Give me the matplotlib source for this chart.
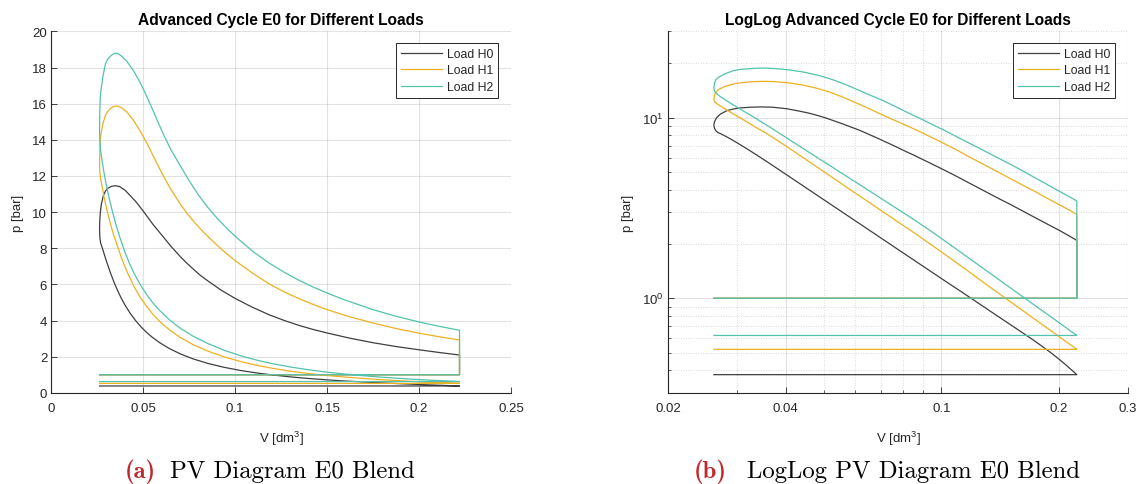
import matplotlib
matplotlib.use('Agg')
import matplotlib.pyplot as plt
from matplotlib.ticker import FixedLocator, FixedFormatter, NullFormatter, LogFormatterSciNotation

# ---------------- data ----------------
V_MIN = 0.0262          # dm^3
V_MAX = 0.2220          # dm^3
P_EXHAUST = 1.0         # bar
load_names = ['Load H0', 'Load H1', 'Load H2']
p_intake = [0.378, 0.522, 0.623]   # bar

# compression strokes (V decreasing)
V_comp_H0 = [0.2220, 0.2205, 0.2170, 0.2120, 0.2060, 0.2000, 0.1900, 0.1800, 0.1700, 0.1600,
             0.1500, 0.1400, 0.1300, 0.1200, 0.1125, 0.1040, 0.0940, 0.0850, 0.0770, 0.0700,
             0.0640, 0.0590, 0.0550, 0.0519, 0.0490, 0.0460, 0.0430, 0.0400, 0.0380, 0.0360,
             0.0340, 0.0320, 0.0300, 0.0285, 0.0275, 0.0268, 0.0265, 0.0263, 0.0262]
p_comp_H0 = [0.378, 0.383, 0.395, 0.413, 0.436, 0.460, 0.502, 0.547, 0.597, 0.652,
             0.716, 0.791, 0.881, 0.990, 1.087, 1.216, 1.408, 1.629, 1.880, 2.159,
             2.459, 2.767, 3.063, 3.332, 3.622, 3.969, 4.377, 4.861, 5.236, 5.660,
             6.138, 6.673, 7.267, 7.748, 8.073, 8.284, 8.47, 8.72, 9.07]

V_comp_H1 = [0.2220, 0.2205, 0.2170, 0.2120, 0.2060, 0.2000, 0.1900, 0.1800, 0.1700, 0.1600,
             0.1500, 0.1400, 0.1300, 0.1200, 0.1125, 0.1040, 0.0940, 0.0850, 0.0770, 0.0700,
             0.0640, 0.0590, 0.0551, 0.0515, 0.0480, 0.0450, 0.0410, 0.0380, 0.0355, 0.0337,
             0.0320, 0.0305, 0.0292, 0.0282, 0.0274, 0.0268, 0.0265, 0.0263, 0.0262]
p_comp_H1 = [0.522, 0.5275, 0.541, 0.561, 0.586, 0.614, 0.664, 0.7225, 0.790, 0.867,
             0.958, 1.067, 1.196, 1.360, 1.505, 1.700, 1.985, 2.31, 2.67, 3.07,
             3.50, 3.94, 4.36, 4.82, 5.34, 5.87, 6.73, 7.50, 8.25, 8.78,
             9.40, 10.00, 10.57, 11.06, 11.51, 11.85, 12.08, 12.30, 12.57]

V_comp_H2 = [0.2220, 0.2205, 0.2170, 0.2120, 0.2060, 0.2000, 0.1900, 0.1800, 0.1700, 0.1600,
             0.1500, 0.1400, 0.1300, 0.1200, 0.1125, 0.1040, 0.1000, 0.0940, 0.0850, 0.0770,
             0.0700, 0.0640, 0.0590, 0.0550, 0.0515, 0.0480, 0.0450, 0.0425, 0.0400, 0.0372,
             0.0350, 0.0330, 0.0312, 0.0298, 0.0287, 0.0278, 0.0271, 0.0266, 0.0263, 0.0262]
p_comp_H2 = [0.623, 0.6296, 0.6454, 0.6692, 0.6996, 0.7323, 0.793, 0.862, 0.942, 1.035,
             1.143, 1.273, 1.428, 1.617, 1.787, 2.018, 2.145, 2.355, 2.73, 3.135,
             3.58, 4.056, 4.54, 5.00, 5.48, 6.04, 6.60, 7.15, 7.78, 8.61,
             9.35, 10.11, 10.87, 11.54, 12.13, 12.68, 13.15, 13.60, 14.05, 14.59]

# combustion + expansion strokes (V increasing)
V_exp_H0 = [0.0263, 0.0266, 0.0272, 0.0283, 0.0295, 0.0306, 0.0325, 0.0347, 0.0370, 0.0402,
            0.0430, 0.0461, 0.0500, 0.0551, 0.0618, 0.0655, 0.0700, 0.0735, 0.0769, 0.0810,
            0.0850, 0.0925, 0.1000, 0.1090, 0.1184, 0.1270, 0.1350, 0.1420, 0.1500, 0.1620,
            0.1750, 0.1875, 0.2000, 0.2110, 0.2220]
p_exp_H0 = [9.50, 9.96, 10.45, 10.93, 11.18, 11.31, 11.42, 11.46, 11.42, 11.20,
            10.90, 10.56, 10.05, 9.34, 8.51, 8.05, 7.55, 7.19, 6.87, 6.50,
            6.20, 5.67, 5.22, 4.75, 4.32, 3.99, 3.72, 3.515, 3.31, 3.03,
            2.77, 2.56, 2.38, 2.23, 2.09]

V_exp_H1 = [0.0263, 0.0265, 0.0269, 0.0280, 0.0294, 0.0305, 0.0320, 0.0335, 0.0351, 0.0365,
            0.0380, 0.0410, 0.0445, 0.0480, 0.0519, 0.0551, 0.0580, 0.0609, 0.0650, 0.0700,
            0.0740, 0.0780, 0.0820, 0.0863, 0.0930, 0.1000, 0.1090, 0.1184, 0.1270, 0.1358,
            0.1425, 0.1500, 0.1620, 0.1750, 0.1875, 0.2000, 0.2110, 0.2220]
p_exp_H1 = [13.30, 13.85, 14.28, 14.90, 15.35, 15.55, 15.72, 15.83, 15.87, 15.85,
            15.78, 15.55, 15.10, 14.54, 13.82, 13.16, 12.57, 12.00, 11.26, 10.46,
            9.90, 9.41, 8.97, 8.54, 7.90, 7.31, 6.65, 6.03, 5.567, 5.16,
            4.884, 4.60, 4.214, 3.86, 3.555, 3.30, 3.10, 2.92]

V_exp_H2 = [0.0263, 0.0265, 0.0269, 0.0280, 0.0294, 0.0305, 0.0320, 0.0335, 0.0351, 0.0365,
            0.0380, 0.0410, 0.0445, 0.0480, 0.0500, 0.0525, 0.0551, 0.0580, 0.0609, 0.0650,
            0.0700, 0.0750, 0.0800, 0.0850, 0.0900, 0.0960, 0.1017, 0.1100, 0.1184, 0.1265,
            0.1350, 0.1425, 0.1500, 0.1590, 0.1750, 0.1875, 0.2000, 0.2110, 0.2220]
p_exp_H2 = [15.50, 16.20, 16.70, 17.50, 18.20, 18.45, 18.62, 18.75, 18.80, 18.75,
            18.65, 18.35, 17.85, 17.22, 16.81, 16.26, 15.66, 14.98, 14.31, 13.45,
            12.58, 11.73, 10.94, 10.27, 9.68, 9.04, 8.51, 7.79, 7.18, 6.677,
            6.21, 5.846, 5.52, 5.16, 4.60, 4.234, 3.92, 3.677, 3.46]

comp_V = [V_comp_H0, V_comp_H1, V_comp_H2]
comp_p = [p_comp_H0, p_comp_H1, p_comp_H2]
exp_V = [V_exp_H0, V_exp_H1, V_exp_H2]
exp_p = [p_exp_H0, p_exp_H1, p_exp_H2]

lin_xticks = [0, 0.05, 0.1, 0.15, 0.2, 0.25]
lin_xticklabels = ['0', '0.05', '0.1', '0.15', '0.2', '0.25']
lin_yticks = [0, 2, 4, 6, 8, 10, 12, 14, 16, 18, 20]
log_xticks = [0.02, 0.04, 0.1, 0.2, 0.3]
log_xticklabels = ['0.02', '0.04', '0.1', '0.2', '0.3']
log_xminor = [0.03, 0.05, 0.06, 0.07, 0.08, 0.09]
log_yticks = [1, 10]
log_yminor = [0.3, 0.4, 0.5, 0.6, 0.7, 0.8, 0.9, 2, 3, 4, 5, 6, 7, 8, 9, 20, 30]

# ---------------- style ----------------
colors = ['#3f3f3f', '#EDB120', '#52C3AC']
AX_COL = '#262626'
plt.rcParams['font.family'] = ['Liberation Sans', 'DejaVu Sans']
plt.rcParams['mathtext.fontset'] = 'custom'
plt.rcParams['mathtext.rm'] = 'Liberation Sans'
plt.rcParams['mathtext.it'] = 'Liberation Sans:italic'
plt.rcParams['mathtext.bf'] = 'Liberation Sans:bold'

fig = plt.figure(figsize=(11.40, 4.85), dpi=100)
W, H = 1140.0, 485.0
ax1 = fig.add_axes([51.4 / W, (H - 393.8) / H, 459.6 / W, 361.4 / H])
ax2 = fig.add_axes([668.0 / W, (H - 393.8) / H, 460.0 / W, 361.4 / H])


def cycle(i):
    pin = p_intake[i]
    V = [V_MIN, V_MAX] + comp_V[i] + exp_V[i] + [V_MAX, V_MIN]
    p = [pin, pin] + comp_p[i] + exp_p[i] + [P_EXHAUST, P_EXHAUST]
    return V, p


def style_axes(ax):
    for s in ['top', 'right']:
        ax.spines[s].set_visible(False)
    for s in ['left', 'bottom']:
        ax.spines[s].set_color(AX_COL)
        ax.spines[s].set_linewidth(0.8)
    ax.tick_params(which='major', direction='in', length=4, width=0.6, colors=AX_COL,
                   labelsize=9.5, labelcolor=AX_COL)
    ax.tick_params(which='minor', direction='in', length=2.5, width=0.5, colors=AX_COL)
    ax.tick_params(axis='x', which='both', pad=6.5)
    ax.tick_params(axis='y', which='both', pad=3)
    ax.set_axisbelow(True)


for i in range(3):
    V, p = cycle(i)
    ax1.plot(V, p, color=colors[i], lw=0.9, label=load_names[i])
    ax2.plot(V, p, color=colors[i], lw=0.9, label=load_names[i])

# linear plot
ax1.set_xlim(0, 0.25)
ax1.set_ylim(0, 20)
ax1.xaxis.set_major_locator(FixedLocator(lin_xticks))
ax1.xaxis.set_major_formatter(FixedFormatter(lin_xticklabels))
ax1.yaxis.set_major_locator(FixedLocator(lin_yticks))
style_axes(ax1)
ax1.grid(True, which='major', color=AX_COL, alpha=0.13, lw=0.8)
ax1.set_title('Advanced Cycle E0 for Different Loads', fontsize=11.2, fontweight='bold',
              pad=5, color='black')
ax1.set_xlabel('V [dm$^3$]', fontsize=9.5, color=AX_COL, labelpad=11)
ax1.set_ylabel('p [bar]', fontsize=9.5, color=AX_COL, labelpad=6)

# log-log plot
ax2.set_xscale('log')
ax2.set_yscale('log')
ax2.set_xlim(0.02, 0.3)
ax2.set_ylim(0.3, 30)
ax2.xaxis.set_major_locator(FixedLocator(log_xticks))
ax2.xaxis.set_major_formatter(FixedFormatter(log_xticklabels))
ax2.xaxis.set_minor_locator(FixedLocator(log_xminor))
ax2.xaxis.set_minor_formatter(NullFormatter())
ax2.yaxis.set_major_locator(FixedLocator(log_yticks))
ax2.yaxis.set_major_formatter(LogFormatterSciNotation())
ax2.yaxis.set_minor_locator(FixedLocator(log_yminor))
ax2.yaxis.set_minor_formatter(NullFormatter())
style_axes(ax2)
ax2.grid(True, which='major', color=AX_COL, alpha=0.13, lw=0.8)
ax2.grid(True, which='minor', color=AX_COL, alpha=0.22, lw=0.6, linestyle=(0, (1, 2)))
ax2.set_title('LogLog Advanced Cycle E0 for Different Loads', fontsize=11.2,
              fontweight='bold', pad=5, color='black')
ax2.set_xlabel('V [dm$^3$]', fontsize=9.5, color=AX_COL, labelpad=11)
ax2.set_ylabel('p [bar]', fontsize=9.5, color=AX_COL, labelpad=6)

for ax in (ax1, ax2):
    leg = ax.legend(loc='upper right', bbox_to_anchor=(0.972, 0.968), borderaxespad=0,
                    fontsize=8.8, fancybox=False, framealpha=1, edgecolor=AX_COL,
                    handlelength=3.35, handletextpad=0.4, labelspacing=0.38,
                    borderpad=0.4)
    leg.get_frame().set_linewidth(0.7)
    for t in leg.get_texts():
        t.set_color(AX_COL)

# captions
cap_y = (H - 478) / H
cap_size = 17.8
fig.text(156 / W, cap_y, '(a)', family=['cmb10', 'DejaVu Serif'], fontsize=cap_size,
         color='#C0282E', ha='right', va='baseline')
fig.text(170 / W, cap_y, 'PV Diagram E0 Blend', family=['cmr10', 'DejaVu Serif'],
         fontsize=cap_size, color='black', ha='left', va='baseline')
fig.text(727 / W, cap_y, '(b)', family=['cmb10', 'DejaVu Serif'], fontsize=cap_size,
         color='#C0282E', ha='right', va='baseline')
fig.text(747 / W, cap_y, 'LogLog PV Diagram E0 Blend', family=['cmr10', 'DejaVu Serif'],
         fontsize=cap_size, color='black', ha='left', va='baseline')

fig.savefig('out.png', dpi=100)
